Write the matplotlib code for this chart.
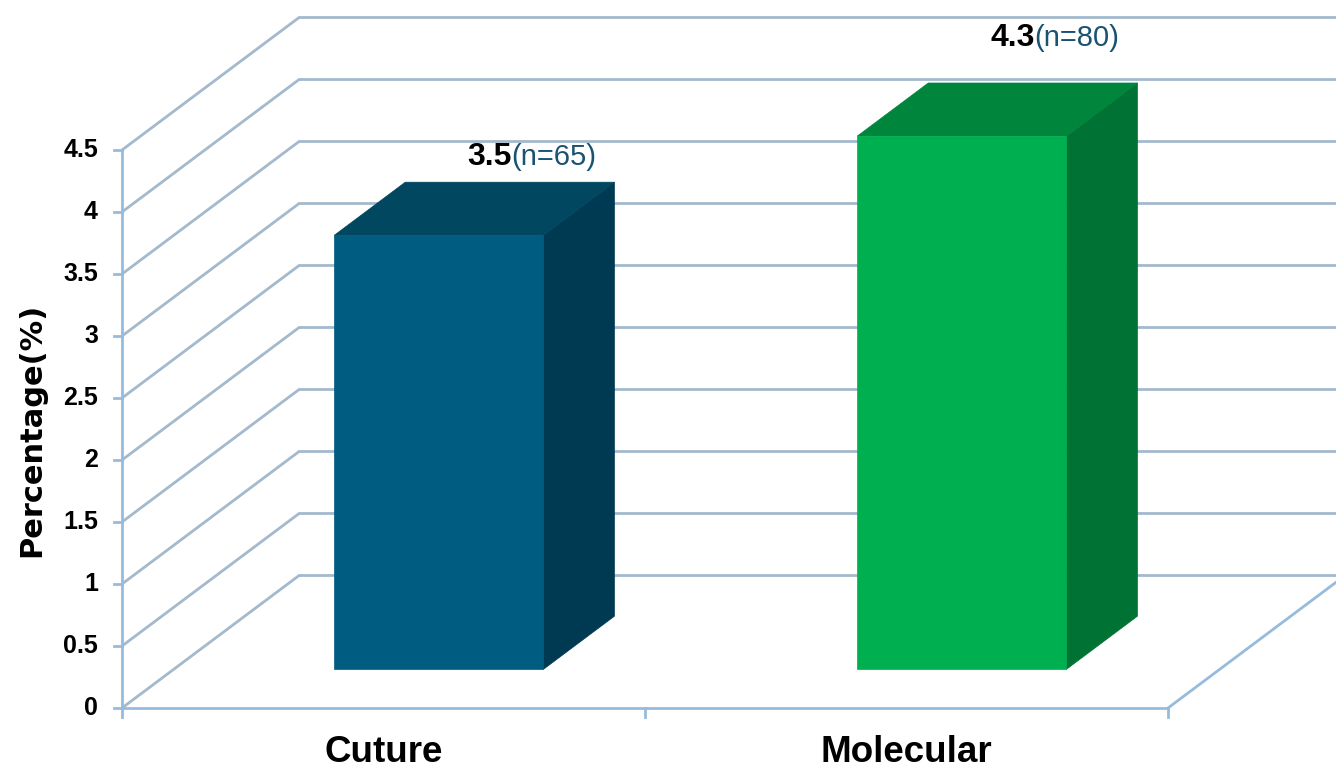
import matplotlib.pyplot as plt
from matplotlib.patches import Polygon

# data
categories = ['Cuture', 'Molecular']
values = [3.5, 4.3]
counts = ['(n=65)', '(n=80)']
yticks = [0, 0.5, 1, 1.5, 2, 2.5, 3, 3.5, 4, 4.5]

# colours for front / top / side faces
front_colors = ['#005C80', '#00B050']
top_colors = ['#00475F', '#00853D']
side_colors = ['#003A52', '#007233']

# oblique depth vector (full depth of the chart box), in data units
DX, DY = 0.34, 1.073
bar_w = 0.4
bar_off = 0.507               # bar centre inside its category
d0, d1 = 0.29, 0.69          # front and back depth of bars
label_dy = [0.2, 0.36]        # gap above bar tops for labels

grid_c = '#A3B9CD'
axis_c = '#97BBDD'


def proj(x, y, d):
    return x + d * DX, y + d * DY


fig = plt.figure(figsize=(13.36, 7.70), dpi=100)
ax = fig.add_axes([0, 0, 1, 1])
ax.set_xlim(-122 / 523, (1336 - 122) / 523)
ax.set_ylim(-62 / 124, 708 / 124)
ax.axis('off')

n = len(categories)
ymax = yticks[-1]

# side wall and back wall gridlines
for t in yticks:
    bx, by = proj(0, t, 1)
    ax.plot([0, bx], [t, by], color=grid_c, lw=2, zorder=1, solid_capstyle='butt')
    ex, _ = proj(n, t, 1)
    ax.plot([bx, ex + 0.1], [by, by], color=grid_c, lw=2, zorder=1)

# floor right edge
rx, ry = proj(n, 0, 1)
ax.plot([n, rx], [0, ry], color=axis_c, lw=2, zorder=1)

# axes lines and ticks
ax.plot([0, 0], [0, ymax], color=axis_c, lw=2, zorder=2)
ax.plot([0, n], [0, 0], color=axis_c, lw=2, zorder=2)
for t in yticks:
    ax.plot([-8 / 523, 0], [t, t], color=axis_c, lw=2, zorder=2)
    ax.text(-24 / 523, t, f'{t:g}', ha='right', va='center', fontsize=18,
            fontweight='bold', family='Liberation Sans')
for i in range(n + 1):
    ax.plot([i, i], [0, -9 / 124], color=axis_c, lw=2, zorder=2)

# bars
for i, (v, fc, tc, sc) in enumerate(zip(values, front_colors, top_colors, side_colors)):
    x0 = i + bar_off - bar_w / 2
    x1 = i + bar_off + bar_w / 2
    front = [proj(x0, 0, d0), proj(x1, 0, d0), proj(x1, v, d0), proj(x0, v, d0)]
    top = [proj(x0, v, d0), proj(x1, v, d0), proj(x1, v, d1), proj(x0, v, d1)]
    side = [proj(x1, 0, d0), proj(x1, 0, d1), proj(x1, v, d1), proj(x1, v, d0)]
    for pts, c in [(side, sc), (top, tc), (front, fc)]:
        ax.add_patch(Polygon(pts, closed=True, facecolor=c, edgecolor=c, lw=0.5, zorder=3))

    lx, ly = proj(i + 0.5, v, d1)
    ax.text(lx + 0.01, ly + label_dy[i], f'{v:g}', ha='right', va='center',
            fontsize=23, fontweight='bold', family='Liberation Sans', zorder=4)
    ax.text(lx + 0.01, ly + label_dy[i], counts[i], ha='left', va='center',
            fontsize=21, color='#1A5272', family='Liberation Sans', zorder=4)

# category labels
for i, c in enumerate(categories):
    ax.text(i + 0.5, -0.36, c, ha='center', va='center', fontsize=26.5,
            fontweight='bold', family='Liberation Sans')

ax.text(-0.172, 2.24, 'Percentage(%)', rotation=90, ha='center', va='center',
        fontsize=22, fontweight='bold', family='DejaVu Sans')

fig.savefig('out.png', dpi=100)
